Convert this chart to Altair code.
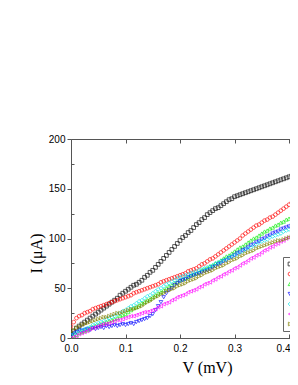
import altair as alt
import pandas as pd

V = [0.000, 0.005, 0.010, 0.015, 0.020, 0.025, 0.030, 0.035, 0.040, 0.045,
     0.050, 0.055, 0.060, 0.065, 0.070, 0.075, 0.080, 0.085, 0.090, 0.095,
     0.100, 0.105, 0.110, 0.115, 0.120, 0.125, 0.130, 0.135, 0.140, 0.145,
     0.150, 0.155, 0.160, 0.165, 0.170, 0.175, 0.180, 0.185, 0.190, 0.195,
     0.200, 0.205, 0.210, 0.215, 0.220, 0.225, 0.230, 0.235, 0.240, 0.245,
     0.250, 0.255, 0.260, 0.265, 0.270, 0.275, 0.280, 0.285, 0.290, 0.295,
     0.300, 0.305, 0.310, 0.315, 0.320, 0.325, 0.330, 0.335, 0.340, 0.345,
     0.350, 0.355, 0.360, 0.365, 0.370, 0.375, 0.380, 0.385, 0.390, 0.395,
     0.400, 0.405, 0.410, 0.415]

I_black = [4, 7, 10, 12, 14, 16, 18, 20, 22, 24, 26, 28, 30, 32, 34, 36, 38, 40, 43, 45,
           47, 49, 51, 53, 54, 56, 58, 61, 63, 66, 68, 71, 74, 77, 80, 83, 86, 89, 92, 95,
           98, 101, 103, 106, 108, 111, 114, 116, 119, 121, 124, 126, 128, 130, 131, 133,
           135, 137, 139, 140, 142, 143, 144, 145, 146, 147, 148, 149, 150, 151, 152, 153,
           154, 155, 156, 157, 158, 159, 160, 161, 162, 163, 165, 166]
I_red = [12, 16, 20, 22, 23, 25, 26, 27, 29, 30, 31, 32, 33, 34, 35, 36, 37, 38, 39, 40,
         41, 42, 43, 45, 46, 47, 48, 49, 50, 51, 52, 53, 54, 56, 57, 58, 59, 60, 61, 62,
         63, 64, 65, 67, 68, 69, 70, 72, 74, 75, 77, 79, 80, 82, 84, 86, 88, 90, 92, 94,
         96, 98, 100, 103, 105, 107, 109, 111, 113, 114, 116, 118, 119, 121, 122, 124,
         126, 128, 130, 132, 134, 136, 139, 141]
I_green = [1, 2, 3, 5, 6, 7, 8, 10, 11, 12, 13, 14, 15, 16, 17, 18, 19, 20, 22, 23,
           24, 26, 28, 30, 31, 33, 35, 36, 38, 39, 41, 43, 45, 46, 48, 50, 52, 53, 55, 56,
           58, 59, 60, 61, 63, 64, 65, 66, 68, 69, 70, 72, 73, 75, 76, 78, 80, 82, 83, 85,
           87, 89, 91, 92, 94, 96, 98, 100, 101, 103, 105, 107, 108, 110, 111, 113,
           114, 116, 117, 119, 120, 122, 124, 126]
I_blue = [3, 5, 6, 8, 7, 8, 9, 8, 10, 9, 10, 11, 10, 12, 11, 12, 13, 12, 13, 14,
          13, 14, 15, 14, 16, 17, 18, 19, 20, 22, 24, 28, 32, 36, 41, 45, 48, 50, 53, 55,
          57, 58, 59, 61, 62, 63, 64, 65, 66, 67, 68, 69, 71, 72, 74, 75, 77, 78, 80, 81,
          83, 85, 86, 88, 89, 91, 93, 94, 96, 97, 99, 100, 102, 103, 105, 106,
          107, 109, 110, 111, 112, 113, 115, 116]
I_cyan = [3, 4, 5, 7, 8, 9, 10, 11, 13, 14, 15, 16, 17, 19, 20, 21, 22, 24, 25, 27,
          28, 30, 32, 33, 35, 37, 38, 40, 42, 43, 45, 47, 49, 50, 52, 54, 55, 57, 58, 60,
          61, 62, 63, 64, 65, 66, 67, 68, 69, 70, 71, 72, 73, 75, 76, 77, 78, 79, 81, 82,
          83, 84, 86, 87, 89, 90, 91, 93, 94, 96, 97, 98, 99, 101, 102, 103,
          104, 105, 107, 108, 109, 110, 111, 112]
I_magenta = [0, 1, 2, 4, 5, 6, 7, 9, 10, 11, 12, 13, 14, 14, 15, 16, 17, 18, 18, 19,
             20, 21, 22, 22, 23, 24, 25, 26, 26, 27, 28, 29, 31, 32, 34, 35, 36, 38, 39, 41,
             42, 43, 44, 46, 47, 48, 49, 51, 52, 54, 55, 56, 58, 59, 61, 62, 64, 65, 67, 68,
             70, 71, 73, 75, 76, 78, 80, 81, 83, 84, 86, 88, 89, 91, 92, 94,
             95, 97, 98, 100, 101, 103, 104, 106]
I_olive = [6, 8, 10, 11, 13, 14, 15, 16, 17, 18, 19, 20, 21, 21, 22, 23, 24, 25, 25, 26,
           27, 28, 29, 29, 30, 31, 32, 34, 36, 37, 39, 41, 42, 44, 45, 47, 48, 49, 50, 52,
           53, 54, 55, 57, 58, 59, 60, 62, 63, 65, 66, 67, 68, 70, 71, 72, 73, 75, 76, 78,
           79, 80, 82, 83, 85, 86, 87, 88, 90, 91, 92, 93, 94, 95, 96, 97,
           98, 98, 99, 100, 101, 102, 102, 103]

names = ["1", "2", "3", "4", "5", "6", "7"]
series_values = [I_black, I_red, I_green, I_blue, I_cyan, I_magenta, I_olive]
colors = ["#000000", "#ff0000", "#00ee00", "#0000ff", "#00e5e5", "#ff00ff", "#808000"]
shapes = ["square", "circle", "triangle-up", "triangle-down", "diamond",
          "triangle-left", "triangle-right"]

x_ticks = [0.0, 0.1, 0.2, 0.3, 0.4]
y_major = [0, 50, 100, 150, 200]
y_minor = [25, 75, 125, 175]

rows = []
for name, vals in zip(names, series_values):
    for v, i in zip(V, vals):
        rows.append({"V": v, "I": i, "series": name})
df = pd.DataFrame(rows)

axis_color = "#555555"
xscale = alt.Scale(domain=[0, 0.4018], nice=False, zero=False)
yscale = alt.Scale(domain=[0, 200], nice=False)

legend = alt.Legend(
    title=None, orient="none", legendX=212, legendY=118,
    strokeColor="#666666", fillColor="white", padding=3,
    symbolSize=14, symbolStrokeWidth=1, symbolOffset=0,
    labelFontSize=8, rowPadding=2, labelExpr="''",
)

points = alt.Chart(df).mark_point(filled=False, size=14, strokeWidth=0.9, clip=True).encode(
    x=alt.X("V:Q", scale=xscale, axis=alt.Axis(
        orient="bottom", values=x_ticks, format=".1f", tickSize={"expr": "-4"},
        labelPadding=9, labelFont="Liberation Sans", labelFontSize=10, labelColor="black",
        labelFlush=False,
        labelAlign={"condition": {"test": "datum.value > 0.35", "value": "right"}, "value": "center"},
        labelOffset={"condition": {"test": "datum.value > 0.35", "value": 1}, "value": 0},
        domainColor=axis_color, tickColor=axis_color, grid=False,
        title="V (mV)", titleFont="Liberation Serif", titleFontSize=16,
        titleFontWeight="normal", titleColor="black",
        titleX=136, titleY=34, titleBaseline="alphabetic", titleAlign="center")),
    y=alt.Y("I:Q", scale=yscale, axis=alt.Axis(
        orient="left", values=y_major, tickSize=4, labelPadding=2,
        labelFont="Liberation Sans", labelFontSize=10, labelColor="black",
        domainColor=axis_color, tickColor=axis_color, grid=False,
        title="I (μA)", titleFont="Liberation Serif", titleFontSize=16,
        titleFontWeight="normal", titleColor="black", titleAngle=-90,
        titleX=-35, titleY=114, titleBaseline="middle", titleAlign="center")),
    color=alt.Color("series:N", scale=alt.Scale(domain=names, range=colors), legend=legend),
    shape=alt.Shape("series:N", scale=alt.Scale(domain=names, range=shapes), legend=legend),
    order=alt.Order("series:N"),
)

frame = alt.Chart(df).mark_point(opacity=0).encode(
    x=alt.X("V:Q", scale=xscale, axis=alt.Axis(
        orient="top", values=x_ticks, tickSize={"expr": "-4"}, labels=False,
        domainColor=axis_color, tickColor=axis_color, grid=False, title=None)),
    y=alt.Y("I:Q", scale=yscale, axis=alt.Axis(
        orient="left", values=y_minor, tickSize={"expr": "-3"}, labels=False,
        domain=False, tickColor=axis_color, grid=False, title=None)),
)

chart = alt.layer(points, frame).resolve_axis(x="independent", y="independent").properties(
    width=219, height=199,
    autosize=alt.AutoSizeParams(type="none"),
    padding={"left": 63, "top": 131, "right": 0, "bottom": 39},
).configure_view(stroke=None)

chart.save("out.html", embed_options={"renderer": "svg", "actions": False})
